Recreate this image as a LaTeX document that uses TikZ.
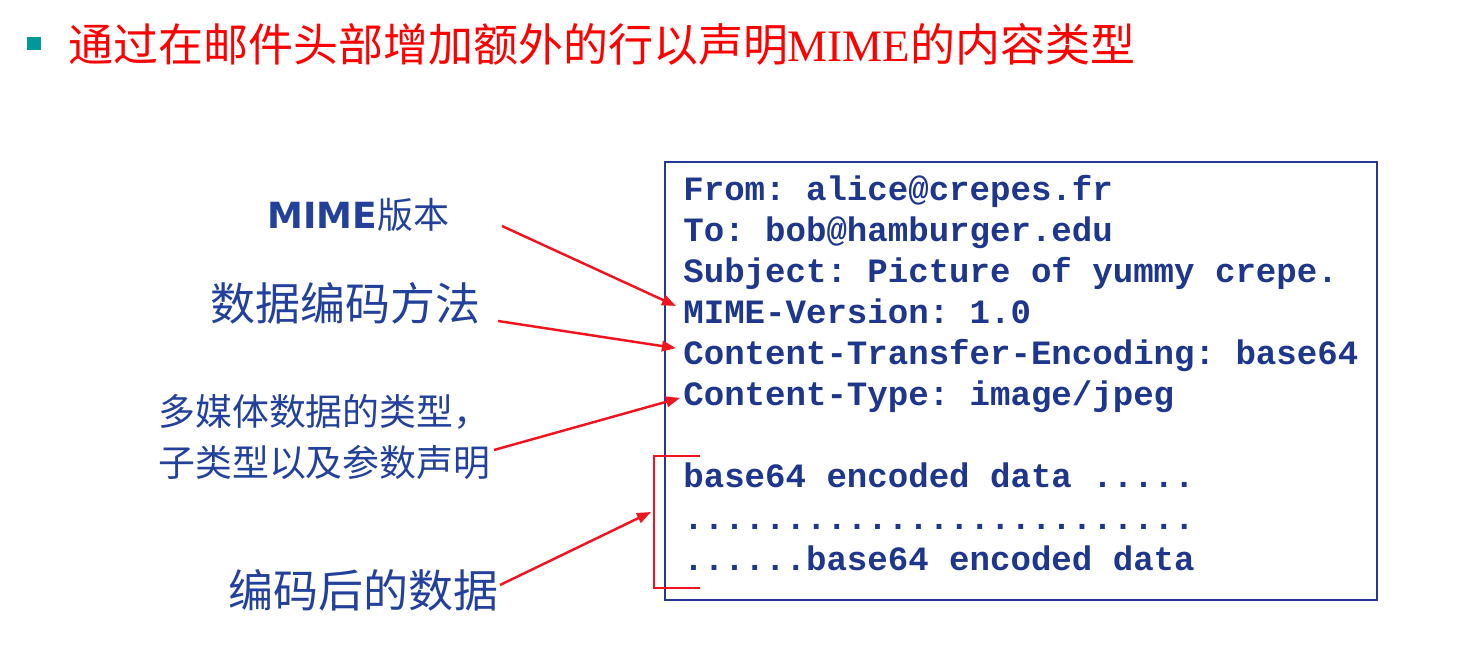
\documentclass[tikz,border=0pt]{standalone}
\usepackage{fontspec}
\setmainfont{Liberation Serif}
\setsansfont{DejaVu Sans}
\setmonofont{Liberation Mono}
\newfontfamily\cjk{Noto Sans CJK SC}
\usepackage{tikz}
\usetikzlibrary{arrows.meta,positioning}
\usepackage{xcolor}
\definecolor{cTitle}{RGB}{255,0,0}
\definecolor{cBullet}{RGB}{0,153,153}
\definecolor{cNote}{RGB}{35,65,155}
\definecolor{cMail}{RGB}{30,55,140}
\definecolor{cBox}{RGB}{40,55,150}
\definecolor{cArrow}{RGB}{240,20,30}

\tikzset{
  mailline/.style={anchor=base west, inner sep=0pt, text=cMail,
    font=\ttfamily\bfseries\fontsize{19.4}{21}\selectfont},
  note/.style={anchor=base west, inner sep=0pt, text=cNote},
  pointer/.style={cArrow, line width=1.4pt, -{Triangle[length=8pt,width=6pt]}},
}

\begin{document}
\begin{tikzpicture}[x=0.02cm, y=-0.02cm]
  \useasboundingbox (0,0) rectangle (1464,652);
  % heading
  \node[fill=cBullet, inner sep=0pt, minimum size=7.4pt] (bullet) at (34,44) {};
  \node[anchor=base west, inner sep=0pt, text=cTitle, font=\cjk\fontsize{25.6}{28}\selectfont]
    (title) at (68,62) {通过在邮件头部增加额外的行以声明{\rmfamily MIME}的内容类型};
  % mail message
  \draw[cBox, line width=1pt] (665,162) rectangle (1377,600);
  \node[mailline] (lnFrom) at (683,200) {From: alice@crepes.fr};
  \node[mailline] (lnTo) at (683,241) {To: bob@hamburger.edu};
  \node[mailline] (lnSubject) at (683,282) {Subject: Picture of yummy crepe.};
  \node[mailline] (lnVersion) at (683,323) {MIME-Version: 1.0};
  \node[mailline] (lnEncoding) at (683,364) {Content-Transfer-Encoding: base64};
  \node[mailline] (lnType) at (683,405) {Content-Type: image/jpeg};
  \node[mailline] (lnDataA) at (683,487) {base64 encoded data .....};
  \node[mailline] (lnDataB) at (683,529) {.........................};
  \node[mailline] (lnDataC) at (683,570) {......base64 encoded data};
  \draw[cArrow, line width=1.5pt] (700,456) -- (654,456) -- (654,588) -- (700,588);
  % notes
  \node[note, font=\fontsize{20.5}{24}\selectfont] (verNote) at (267,228)
    {{\sffamily\bfseries MIME}{\cjk 版本}};
  \node[note, font=\cjk\fontsize{25.6}{28}\selectfont] (encNote) at (210,320) {数据编码方法};
  \node[note, font=\cjk\fontsize{21}{28.5}\selectfont, align=left] (typeNote) at (158,476)
    {多媒体数据的类型，\\子类型以及参数声明};
  \node[note, font=\cjk\fontsize{25.6}{28}\selectfont] (dataNote) at (228,607) {编码后的数据};
  % pointers
  \coordinate (verTail) at (502,226);
  \coordinate (encTail) at (498,321);
  \coordinate (typeTail) at (494,450);
  \coordinate (dataTail) at (500,585);
  \coordinate (dataTip) at (651,512);
  \draw[pointer] (verTail) -- ([xshift=-4pt, yshift=9.7pt]lnVersion.base west);
  \draw[pointer] (encTail) -- ([xshift=-4pt, yshift=9pt]lnEncoding.base west);
  \draw[pointer] (typeTail) -- ([xshift=-1.7pt, yshift=4pt]lnType.base west);
  \draw[pointer] (dataTail) -- (dataTip);
\end{tikzpicture}
\end{document}
